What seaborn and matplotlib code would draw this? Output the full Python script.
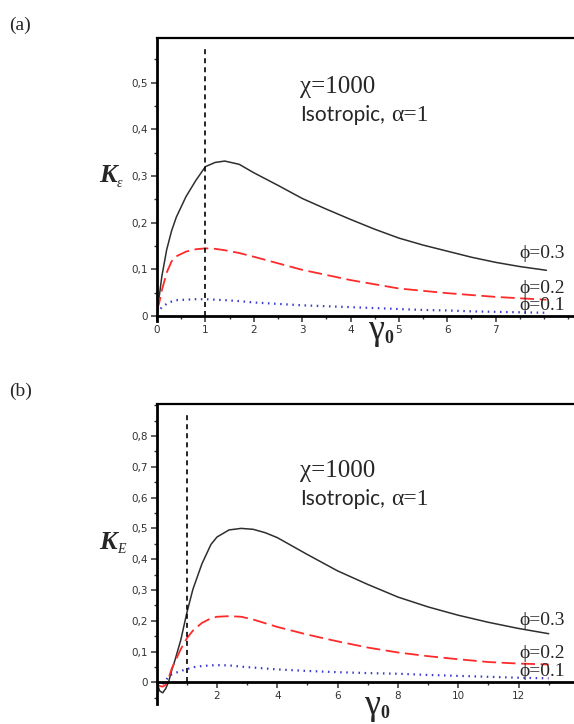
import seaborn as sns
import matplotlib.pyplot as plt
import matplotlib.ticker as mticker
import pandas as pd
import numpy as np

sns.set_style('ticks')
plt.rcParams['font.family'] = ['DejaVu Sans']
plt.rcParams['lines.scale_dashes'] = False

W, H = 574, 724

# ---- panel (a) data: K_eps vs gamma0 ----
a_gamma = [0.0, 0.05, 0.1, 0.2, 0.3, 0.4, 0.6, 0.8, 1.0, 1.2, 1.4, 1.7, 2.0, 2.5,
           3.0, 3.5, 4.0, 4.5, 5.0, 5.5, 6.0, 6.5, 7.0, 7.5, 8.05]
a_k03 = [0.0, 0.045, 0.085, 0.142, 0.182, 0.212, 0.256, 0.29, 0.32, 0.329, 0.332, 0.325,
         0.307, 0.280, 0.252, 0.229, 0.207, 0.186, 0.167, 0.152, 0.139, 0.126, 0.115, 0.106, 0.098]
a_k02 = [0.012, 0.03, 0.055, 0.093, 0.117, 0.128, 0.138, 0.143, 0.145, 0.144, 0.141, 0.135,
         0.127, 0.113, 0.099, 0.088, 0.077, 0.068, 0.059, 0.054, 0.049, 0.045, 0.041, 0.038, 0.035]
a_k01 = [0.005, 0.012, 0.019, 0.026, 0.031, 0.034, 0.035, 0.036, 0.036, 0.035, 0.034, 0.032,
         0.029, 0.026, 0.023, 0.021, 0.019, 0.017, 0.015, 0.013, 0.012, 0.010, 0.009, 0.008, 0.007]

# ---- panel (b) data: K_E vs gamma0 ----
b_gamma = [0.0, 0.1, 0.2, 0.3, 0.4, 0.5, 0.6, 0.8, 1.0, 1.2, 1.5, 1.8, 2.0, 2.4, 2.8,
           3.2, 3.6, 4.0, 5.0, 6.0, 7.0, 8.0, 9.0, 10.0, 11.0, 12.0, 13.0]
b_k03 = [0.0, -0.028, -0.034, -0.02, 0.003, 0.04, 0.07, 0.138, 0.226, 0.302, 0.385, 0.448,
         0.472, 0.495, 0.50, 0.497, 0.486, 0.47, 0.415, 0.362, 0.318, 0.277, 0.245, 0.218,
         0.195, 0.175, 0.158]
b_k02 = [-0.005, -0.012, -0.014, -0.008, 0.015, 0.045, 0.066, 0.108, 0.143, 0.168, 0.193,
         0.208, 0.213, 0.215, 0.213, 0.204, 0.192, 0.180, 0.155, 0.133, 0.113, 0.097, 0.085,
         0.075, 0.066, 0.061, 0.058]
b_k01 = [-0.003, -0.006, -0.005, 0.005, 0.02, 0.026, 0.03, 0.037, 0.043, 0.049, 0.053,
         0.055, 0.056, 0.055, 0.051, 0.048, 0.045, 0.042, 0.037, 0.033, 0.030, 0.028, 0.024,
         0.021, 0.018, 0.015, 0.013]

phi_labels = ['ϕ=0.3', 'ϕ=0.2', 'ϕ=0.1']
a_yticks = [0, 0.1, 0.2, 0.3, 0.4, 0.5]
a_yticklabels = ['0', '0,1', '0,2', '0,3', '0,4', '0,5']
a_xticks = [0, 1, 2, 3, 4, 5, 6, 7]
b_yticks = [0, 0.1, 0.2, 0.3, 0.4, 0.5, 0.6, 0.7, 0.8]
b_yticklabels = ['0', '0,1', '0,2', '0,3', '0,4', '0,5', '0,6', '0,7', '0,8']
b_xticks = [2, 4, 6, 8, 10, 12]

styles = [
    dict(color='#2e2e2e', lw=1.1, ls='-'),
    dict(color='#ff2a2a', lw=1.3, ls=(0, (10, 4))),
    dict(color='#3a3ad0', lw=1.6, ls=(0, (1.1, 3.3))),
]

serif = ['Liberation Serif', 'DejaVu Serif']


def px_axes(fig, left, top, right, bottom):
    return fig.add_axes([left / W, 1 - bottom / H, (right - left) / W, (bottom - top) / H])


def ftext(fig, x, y, s, **kw):
    fig.text(x / W, 1 - y / H, s, va='baseline', ha='left', **kw)


def draw_panel(ax, gamma, ks, xlim, ylim, yticks, yticklabels, xticks, xminor, vtop):
    df = pd.DataFrame({'gamma': gamma, 'k03': ks[0], 'k02': ks[1], 'k01': ks[2]})
    for col, st in zip(['k03', 'k02', 'k01'], styles):
        sns.lineplot(data=df, x='gamma', y=col, ax=ax, estimator=None, sort=False,
                     color=st['color'], linewidth=st['lw'], linestyle=st['ls'])
    # dashed marker at gamma0 = 1
    ax.plot([1, 1], [0, vtop], color='black', lw=1.2, ls=(0, (3.6, 2.9)))
    ax.set_xlim(*xlim)
    ax.set_ylim(*ylim)
    ax.spines['right'].set_visible(False)
    ax.spines['left'].set_linewidth(2.0)
    ax.spines['top'].set_linewidth(1.6)
    ax.spines['bottom'].set_linewidth(2.0)
    ax.spines['bottom'].set_position(('data', 0))
    for s in ['left', 'top', 'bottom']:
        ax.spines[s].set_color('black')
    ax.set_yticks(yticks)
    ax.set_yticklabels(yticklabels)
    ax.yaxis.set_minor_locator(mticker.MultipleLocator(0.05))
    ax.set_xticks(xticks)
    ax.set_xticklabels([str(t) for t in xticks])
    ax.xaxis.set_minor_locator(mticker.MultipleLocator(xminor))
    ax.tick_params(axis='both', which='major', direction='out', length=4.5, width=1.1,
                   labelsize=7.5, labelcolor='#333333', color='#333333', pad=2)
    ax.tick_params(axis='both', which='minor', direction='out', length=2.5, width=1.0,
                   color='#333333')
    ax.set_xlabel('')
    ax.set_ylabel('')


fig = plt.figure(figsize=(W / 100, H / 100), dpi=100)

# panel (a)
ax_a = px_axes(fig, 157, 38.3, W, 320.7)
draw_panel(ax_a, a_gamma, [a_k03, a_k02, a_k01], (0, 8.62), (-0.01, 0.595),
           a_yticks, a_yticklabels, a_xticks, 0.5, 0.577)

# panel (b)
ax_b = px_axes(fig, 156.7, 404, W, 703.9)
draw_panel(ax_b, b_gamma, [b_k03, b_k02, b_k01], (0, 13.84), (-0.07, 0.904),
           b_yticks, b_yticklabels, b_xticks, 1, 0.878)

# annotations
for dy in [0, 384]:
    ftext(fig, 300, 93 + dy, 'χ=1000', family=serif, fontsize=18)
    ftext(fig, 300, 121 + dy, 'Isotropic,', family=['Lato', 'DejaVu Sans'], fontsize=15)
    ftext(fig, 391, 121 + dy, 'α=1', family=serif, fontsize=17)

for (y, lab) in zip([258, 293, 310], phi_labels):
    ftext(fig, 519, y, lab, family=serif, fontsize=14)
for (y, lab) in zip([625, 658, 676], phi_labels):
    ftext(fig, 519, y, lab, family=serif, fontsize=14)

# axis labels
ftext(fig, 99, 182, 'K', family=serif, fontsize=19, fontweight='bold', fontstyle='italic')
ftext(fig, 117, 187, 'ε', family=serif, fontsize=10, fontstyle='italic')
ftext(fig, 99, 549, 'K', family=serif, fontsize=19, fontweight='bold', fontstyle='italic')
ftext(fig, 117, 553, 'E', family=serif, fontsize=10, fontstyle='italic')

ftext(fig, 368, 339, 'γ', family=serif, fontsize=26)
ftext(fig, 384, 343, '0', family=serif, fontsize=13, fontweight='bold')
ftext(fig, 364, 714, 'γ', family=serif, fontsize=26)
ftext(fig, 380, 718, '0', family=serif, fontsize=13, fontweight='bold')

ftext(fig, 9, 30, '(a)', family=serif, fontsize=14)
ftext(fig, 9, 396, '(b)', family=serif, fontsize=14)

fig.savefig('out.png', dpi=100)
